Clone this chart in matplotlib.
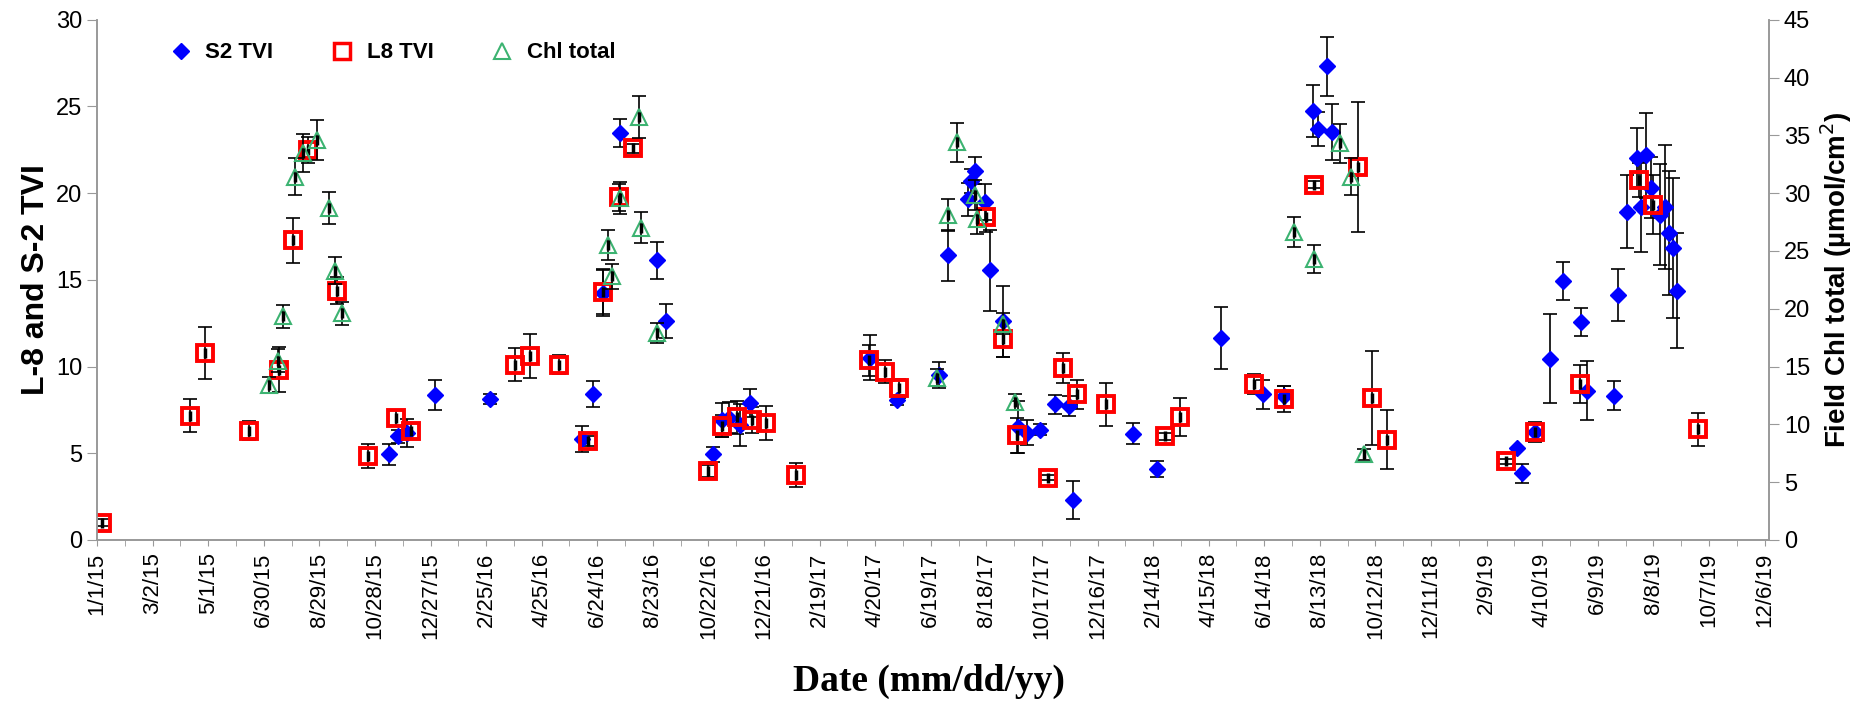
import datetime as dt
import matplotlib
matplotlib.use("Agg")
import matplotlib.pyplot as plt
from matplotlib.lines import Line2D

# L8 TVI (left axis)
l8_dates = ["2015-01-06", "2015-04-11", "2015-04-28", "2015-06-14", "2015-07-17", "2015-08-01",
            "2015-08-17", "2015-09-17", "2015-10-20", "2015-11-20", "2015-12-06", "2016-03-27",
            "2016-04-12", "2016-05-14", "2016-06-14", "2016-06-30", "2016-07-17", "2016-08-02",
            "2016-10-21", "2016-11-06", "2016-11-22", "2016-12-08", "2016-12-23", "2017-01-25",
            "2017-04-13", "2017-05-01", "2017-05-16", "2017-08-18", "2017-09-05", "2017-09-20",
            "2017-10-23", "2017-11-09", "2017-11-24", "2017-12-25", "2018-02-27", "2018-03-15",
            "2018-06-03", "2018-07-05", "2018-08-07", "2018-09-23", "2018-10-08", "2018-10-24",
            "2019-03-02", "2019-04-02", "2019-05-21", "2019-07-23", "2019-08-08", "2019-09-25"]
l8_tvi = [0.99, 7.16, 10.8, 6.29, 9.81, 17.27,
          22.48, 14.38, 4.83, 7.02, 6.29, 10.1,
          10.6, 10.1, 5.69, 14.32, 19.75, 22.58,
          4.0, 6.58, 7.08, 6.92, 6.76, 3.74,
          10.36, 9.71, 8.75, 18.6, 11.56, 6.03,
          3.6, 9.91, 8.41, 7.82, 5.99, 7.08,
          9.01, 8.12, 20.49, 21.5, 8.18, 5.77,
          4.54, 6.23, 8.97, 20.75, 19.32, 6.39]
l8_err = [0.2, 0.95, 1.5, 0.55, 1.3, 1.3,
          0.75, 0.8, 0.7, 0.45, 0.45, 0.95,
          1.25, 0.55, 0.3, 1.3, 0.8, 0.25,
          0.35, 0.65, 0.95, 0.75, 0.98, 0.7,
          0.88, 0.64, 0.55, 0.85, 1.0, 1.0,
          0.15, 0.87, 0.83, 1.25, 0.2, 1.08,
          0.57, 0.75, 0.2, 3.75, 2.7, 1.7,
          0.15, 0.5, 1.1, 1.0, 1.7, 0.95]

# S2 TVI (left axis)
s2_dates = ["2015-11-12", "2015-11-22", "2015-12-02", "2016-01-01", "2016-02-29", "2016-06-08",
            "2016-06-19", "2016-06-30", "2016-07-19", "2016-08-27", "2016-09-06", "2016-10-27",
            "2016-11-06", "2016-11-13", "2016-11-25", "2016-12-06", "2017-04-14", "2017-05-14",
            "2017-06-28", "2017-07-08", "2017-07-29", "2017-08-01", "2017-08-06", "2017-08-17",
            "2017-08-22", "2017-09-05", "2017-09-21", "2017-10-01", "2017-10-15", "2017-10-31",
            "2017-11-15", "2017-11-20", "2018-01-23", "2018-02-18", "2018-04-28", "2018-06-13",
            "2018-07-05", "2018-08-06", "2018-08-11", "2018-08-21", "2018-08-26", "2019-03-14",
            "2019-03-19", "2019-04-02", "2019-04-18", "2019-05-02", "2019-05-22", "2019-05-28",
            "2019-06-26", "2019-07-01", "2019-07-11", "2019-07-21", "2019-07-26", "2019-07-31",
            "2019-08-05", "2019-08-15", "2019-08-20", "2019-08-25", "2019-08-29", "2019-09-03"]
s2_tvi = [4.93, 5.97, 6.17, 8.35, 8.12, 5.83,
          8.41, 14.24, 23.47, 16.13, 12.63, 4.93,
          6.92, 7.06, 6.62, 7.88, 10.5, 8.06,
          9.51, 16.41, 19.65, 20.7, 21.3, 19.49,
          15.54, 12.6, 6.52, 6.19, 6.37, 7.82,
          7.72, 2.31, 6.13, 4.08, 11.66, 8.41,
          8.3, 24.73, 23.69, 27.31, 23.53, 5.33,
          3.84, 6.23, 10.46, 14.94, 12.59, 8.61,
          8.31, 14.12, 18.92, 22.04, 19.2, 22.18,
          20.31, 18.76, 19.2, 17.7, 16.83, 14.38]
s2_err = [0.6, 0.4, 0.8, 0.87, 0.3, 0.75,
          0.73, 1.3, 0.83, 1.08, 1.0, 0.45,
          1.0, 0.9, 1.2, 0.8, 1.3, 0.3,
          0.73, 1.45, 0.95, 0.7, 0.8, 1.03,
          2.35, 2.05, 1.5, 0.7, 0.3, 0.55,
          0.58, 1.1, 0.6, 0.47, 1.8, 0.83,
          0.6, 1.5, 0.97, 1.7, 1.6, 0.0,
          0.54, 0.6, 2.55, 1.1, 0.8, 1.7,
          0.84, 1.5, 2.1, 1.7, 2.6, 2.45,
          1.75, 2.9, 3.55, 3.55, 4.05, 3.3]

# field chlorophyll total (right axis, umol/cm2)
chl_dates = ["2015-07-06", "2015-07-15", "2015-07-21", "2015-08-03", "2015-08-11", "2015-08-26",
             "2015-09-08", "2015-09-15", "2015-09-22", "2016-07-06", "2016-07-10", "2016-07-19",
             "2016-08-08", "2016-08-10", "2016-08-28", "2017-06-26", "2017-07-08", "2017-07-17",
             "2017-08-06", "2017-08-08", "2017-09-05", "2017-09-18", "2018-07-16", "2018-08-07",
             "2018-09-04", "2018-09-16", "2018-09-30"]
chl_total = [13.4, 15.5, 19.35, 31.4, 33.5, 34.6,
             28.7, 23.3, 19.6, 25.5, 22.8, 29.6,
             36.6, 27.0, 17.9, 14.05, 28.1, 34.4,
             29.8, 27.8, 18.7, 11.9, 26.6, 24.3,
             34.3, 31.4, 7.4]
chl_err = [0.7, 1.0, 1.0, 1.6, 1.65, 1.75,
           1.4, 1.2, 1.0, 1.3, 1.1, 1.4,
           1.8, 1.35, 0.9, 0.75, 1.35, 1.7,
           1.3, 1.35, 0.9, 0.7, 1.3, 1.2,
           1.7, 1.6, 0.45]


def to_dates(lst):
    return [dt.datetime.strptime(s, "%Y-%m-%d") for s in lst]


plt.rcParams['font.family'] = ['Liberation Sans', 'DejaVu Sans']
fig = plt.figure(figsize=(18.58, 7.04), dpi=100)
ax = fig.add_axes([0.0522, 0.233, 0.900, 0.739])
ax2 = ax.twinx()

ebkw = dict(fmt='none', ecolor='black', elinewidth=1.2, capsize=5, capthick=1.2)
# short thick black stub visible inside the hollow markers
stub = dict(marker='|', color='black', markersize=7, markeredgewidth=2.5, linestyle='none')

ax.errorbar(to_dates(s2_dates), s2_tvi, yerr=s2_err, zorder=2, **ebkw)
ax.plot(to_dates(s2_dates), s2_tvi, 'D', color='#0000FF', markersize=8, zorder=3, linestyle='none')
ax.errorbar(to_dates(l8_dates), l8_tvi, yerr=l8_err, zorder=2, **ebkw)
ax.plot(to_dates(l8_dates), l8_tvi, 's', markerfacecolor='none', markeredgecolor='#FF0000',
        markeredgewidth=2.8, markersize=11, zorder=4, linestyle='none')
ax.plot(to_dates(l8_dates), l8_tvi, zorder=5, **stub)

ax2.errorbar(to_dates(chl_dates), chl_total, yerr=chl_err, zorder=2, **ebkw)
ax2.plot(to_dates(chl_dates), chl_total, '^', markerfacecolor='none', markeredgecolor='#3CB371',
         markeredgewidth=1.5, markersize=11, zorder=3, linestyle='none')
ax2.plot(to_dates(chl_dates), chl_total, zorder=4, **stub)

start = dt.datetime(2015, 1, 1)
end = dt.datetime(2019, 12, 11)
major = [start + dt.timedelta(days=60 * i) for i in range(31)]
minor = [start + dt.timedelta(days=30 * i) for i in range(61)]
ax.set_xlim(start, end)
ax.set_xticks(major)
ax.set_xticks(minor, minor=True)
ax.set_xticklabels([f"{d.month}/{d.day}/{d.year % 100}" for d in major], rotation=90, fontsize=16)

ax.set_ylim(0, 30)
ax.set_yticks(range(0, 31, 5))
ax2.set_ylim(0, 45)
ax2.set_yticks(range(0, 46, 5))
ax.tick_params(axis='y', labelsize=17, direction='out', length=7, color='#999999')
ax2.tick_params(axis='y', labelsize=17, direction='out', length=7, color='#999999')
ax.tick_params(axis='x', which='both', direction='out', length=4, color='#999999', pad=5)

for a in (ax, ax2):
    a.spines['top'].set_visible(False)
    for s in ('left', 'right', 'bottom'):
        a.spines[s].set_color('#999999')
        a.spines[s].set_linewidth(1.2)

ax.set_ylabel("L-8 and S-2 TVI", fontsize=23, fontweight='bold', labelpad=4)
ax2.set_ylabel("Field Chl total (\u00b5mol/cm$^2$)", fontsize=20, fontweight='bold', labelpad=6)
fig.text(0.5, 0.032, "Date (mm/dd/yy)", fontsize=27, fontweight='bold', family='Liberation Serif',
         ha='center', va='center')

handles = [Line2D([], [], marker='D', color='#0000FF', linestyle='none', markersize=8),
           Line2D([], [], marker='s', markerfacecolor='none', markeredgecolor='#FF0000',
                  markeredgewidth=2.5, linestyle='none', markersize=11),
           Line2D([], [], marker='^', markerfacecolor='none', markeredgecolor='#3CB371',
                  markeredgewidth=1.5, linestyle='none', markersize=11)]
leg = ax.legend(handles, ["S2 TVI", "L8 TVI", "Chl total"], loc='upper left', bbox_to_anchor=(0.025, 0.995),
                ncol=3, frameon=False, fontsize=16, handletextpad=0.1, columnspacing=2.1)
for t in leg.get_texts():
    t.set_fontweight('bold')

fig.savefig("out.png", dpi=100)
